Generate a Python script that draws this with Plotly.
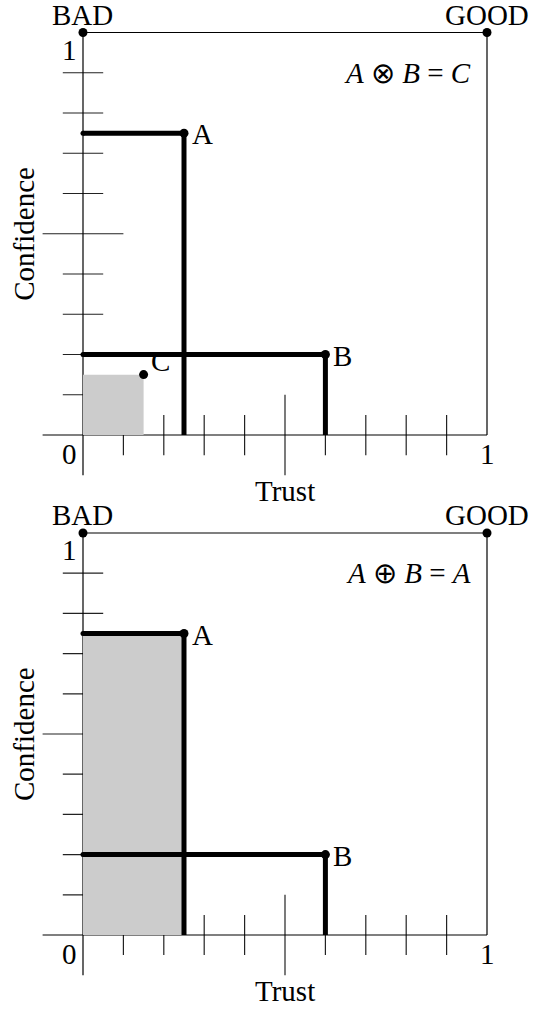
import plotly.graph_objects as go

# ---------------- data ----------------
point_labels = ["A", "B"]
trust = [0.25, 0.60]
confidence = [0.75, 0.20]
result_label = "C"
result_trust = 0.15
result_confidence = 0.15
tick_values = [0.1, 0.2, 0.3, 0.4, 0.5, 0.6, 0.7, 0.8, 0.9]
major_tick = 0.5
corner_labels = ["BAD", "GOOD"]
formulas = ["<i>A</i> \u2297 <i>B</i> = <i>C</i>",
            "<i>A</i> \u2295 <i>B</i> = <i>A</i>"]
shade_trust = [0.15, 0.25]
shade_confidence = [0.15, 0.75]
x_title = "Trust"
y_title = "Confidence"

# ---------------- geometry ----------------
W, H = 543, 1012
X0, X1 = 83, 487
panels_px = [(435, 32.5), (935, 533)]  # (y of 0, y of 1)
XR = [-0.2, 1.12]
YR = [-0.15, 1.07]
FONT = "Liberation Serif, Times New Roman, serif"
FS = 29
THIN = 1.2
THICK = 5

fig = go.Figure()
sx = X1 - X0
layout_axes = {}
shapes = []
annotations = []


def clamp(v):
    return min(max(v, 0.0), 1.0)


for p, (y0px, y1px) in enumerate(panels_px):
    sy = y0px - y1px
    xs = "" if p == 0 else str(p + 1)
    xref, yref = "x" + xs, "y" + xs
    xl = (X0 + XR[0] * sx) / W
    xh = (X0 + XR[1] * sx) / W
    yl = 1 - (y0px - YR[0] * sy) / H
    yh = 1 - (y0px - YR[1] * sy) / H
    layout_axes["xaxis" + xs] = dict(range=XR, domain=[clamp(xl), clamp(xh)], visible=False,
                                     anchor=yref, fixedrange=True)
    layout_axes["yaxis" + xs] = dict(range=YR, domain=[clamp(yl), clamp(yh)], visible=False,
                                     anchor=xref, fixedrange=True)

    def line(xa, ya, xb, yb, w=THIN, color="black"):
        shapes.append(dict(type="line", xref=xref, yref=yref, x0=xa, y0=ya, x1=xb, y1=yb,
                           line=dict(color=color, width=w), layer="below"))

    # ticks
    for t in tick_values:
        h = 0.1 if t == major_tick else 0.05
        line(t, -h, t, h, color="#222")
        line(-h, t, h, t, color="#222")
    # frame / axes
    line(0, 1, 1, 1)
    line(1, 1, 1, 0)
    line(0, 1, 0, -0.1)
    line(-0.1, 0, 1, 0)
    # shaded region
    shapes.append(dict(type="rect", xref=xref, yref=yref, x0=0, y0=0,
                       x1=shade_trust[p], y1=shade_confidence[p],
                       fillcolor="#cccccc", line=dict(width=0), layer="below"))

    # thick lines for A and B
    for name, t, c in zip(point_labels, trust, confidence):
        fig.add_trace(go.Scatter(x=[0, t, t], y=[c, c, 0], mode="lines",
                                 line=dict(color="black", width=THICK),
                                 xaxis=xref, yaxis=yref, hoverinfo="skip", showlegend=False))
        fig.add_trace(go.Scatter(x=[t], y=[c], mode="markers",
                                 marker=dict(color="black", size=9),
                                 xaxis=xref, yaxis=yref, hoverinfo="skip", showlegend=False))
        fig.add_trace(go.Scatter(x=[0], y=[c], mode="markers",
                                 marker=dict(color="black", size=5),
                                 xaxis=xref, yaxis=yref, hoverinfo="skip", showlegend=False))
        annotations.append(dict(x=t, y=c, xref=xref, yref=yref, text=name, showarrow=False,
                                xanchor="left", yanchor="middle", xshift=6, yshift=-1))

    if p == 0:
        fig.add_trace(go.Scatter(x=[result_trust], y=[result_confidence], mode="markers",
                                 marker=dict(color="black", size=9),
                                 xaxis=xref, yaxis=yref, hoverinfo="skip", showlegend=False))
        annotations.append(dict(x=result_trust, y=result_confidence, xref=xref, yref=yref,
                                text=result_label, showarrow=False,
                                xanchor="left", yanchor="middle", xshift=5, yshift=14))

    # corner dots
    fig.add_trace(go.Scatter(x=[0, 1], y=[1, 1], mode="markers",
                             marker=dict(color="black", size=9),
                             xaxis=xref, yaxis=yref, hoverinfo="skip", showlegend=False))
    for cx, lab in zip([0, 1], corner_labels):
        annotations.append(dict(x=cx, y=1, xref=xref, yref=yref, text=lab, showarrow=False,
                                xanchor="center", yanchor="bottom", yshift=0))
    # tick labels
    annotations.append(dict(x=0, y=0, xref=xref, yref=yref, text="0", showarrow=False,
                            xanchor="right", yanchor="top", xshift=-4, yshift=-1))
    annotations.append(dict(x=1, y=0, xref=xref, yref=yref, text="1", showarrow=False,
                            xanchor="center", yanchor="top", yshift=-1))
    annotations.append(dict(x=0, y=1, xref=xref, yref=yref, text="1", showarrow=False,
                            xanchor="right", yanchor="top", xshift=-4, yshift=1))
    # axis titles
    annotations.append(dict(x=0.5, y=-0.1, xref=xref, yref=yref, text=x_title, showarrow=False,
                            xanchor="center", yanchor="top", yshift=2))
    annotations.append(dict(x=-0.146, y=0.5, xref=xref, yref=yref, text=y_title, showarrow=False,
                            xanchor="center", yanchor="middle", textangle=-90))
    # formula
    annotations.append(dict(x=0.965, y=0.9, xref=xref, yref=yref, text=formulas[p],
                            showarrow=False, xanchor="right", yanchor="middle"))

fig.update_layout(
    width=W, height=H, margin=dict(l=0, r=0, t=0, b=0),
    paper_bgcolor="white", plot_bgcolor="white",
    font=dict(family=FONT, size=FS, color="black"),
    shapes=shapes, annotations=annotations, showlegend=False,
    hovermode=False,
    **layout_axes,
)

fig.write_html("out.html",
               config={"displayModeBar": False, "staticPlot": True},
               post_script="document.body.style.margin='0';document.body.style.overflow='hidden';")
